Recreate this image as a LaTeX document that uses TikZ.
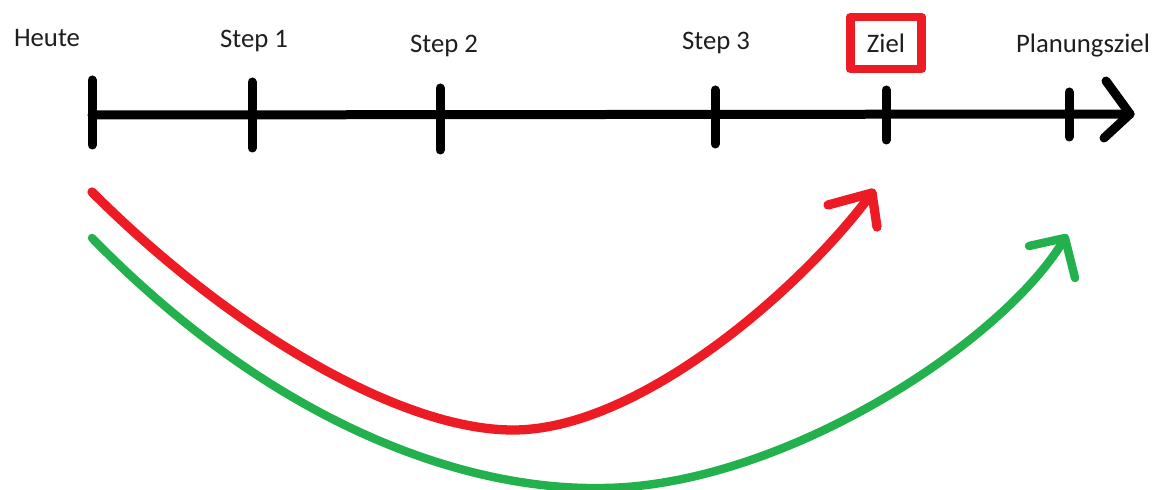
\documentclass[tikz,border=0pt]{standalone}
\usepackage{fontspec}
\setmainfont{Carlito}
\usepackage{tikz}
\usetikzlibrary{arrows.meta}
\definecolor{paintred}{HTML}{ED1C24}
\definecolor{paintgreen}{HTML}{22B14C}
\definecolor{textgray}{HTML}{1E1E1E}
\tikzset{
  every picture/.style={font=\fontsize{19}{22}\selectfont, line join=round, line cap=round},
  axisline/.style={line width=6.4pt},
  steplabel/.style={text=textgray, anchor=base, inner sep=0pt},
  redpath/.style={paintred, line width=6.6pt},
  greenpath/.style={paintgreen, line width=6pt},
}

\begin{document}
\begin{tikzpicture}[x=0.025cm, y=-0.025cm]
\useasboundingbox (0,0) rectangle (1161,490);
% time axis
\coordinate (start) at (92,115);
\coordinate (tip) at (1130,114);
\draw[axisline] (start)--(tip);
\draw[axisline] (1106,81)--(tip)--(1104,138);
\draw[axisline] (92,80)--(92,145);
\draw[axisline] (252,82)--(252,148);
\draw[axisline] (440,88)--(440,150);
\draw[axisline] (715,90)--(715,144);
\draw[axisline] (886,90)--(886,140);
\draw[axisline] (1069,92)--(1069,137);
% labels
\node[steplabel] (heute) at (47,47) {Heute};
\node[steplabel] (step1) at (254,48) {Step 1};
\node[steplabel] (step2) at (444,53) {Step 2};
\node[steplabel] (step3) at (716,50) {Step 3};
\node[text=textgray, draw=paintred, line width=6.2pt, minimum width=1.79cm, minimum height=1.3cm, inner sep=0pt] (ziel) at (886,43) {Ziel};
\node[steplabel] (plan) at (1083,53) {Planungsziel};
% red path to Ziel
\coordinate (redtip) at (872,193);
\draw[redpath] (92,192) .. controls (230,330) and (400,430) .. (513,430)
  .. controls (640,430) and (803,287) .. (redtip);
\draw[redpath] (828,205)--(redtip)--(877,227);
% green path to Planungsziel
\coordinate (greentip) at (1065,238);
\draw[greenpath] (92,238) .. controls (280,430) and (470,490) .. (600,488)
  .. controls (780,488) and (1005,342) .. (greentip);
\draw[greenpath] (1029,246)--(greentip)--(1075,278);
\end{tikzpicture}
\end{document}
